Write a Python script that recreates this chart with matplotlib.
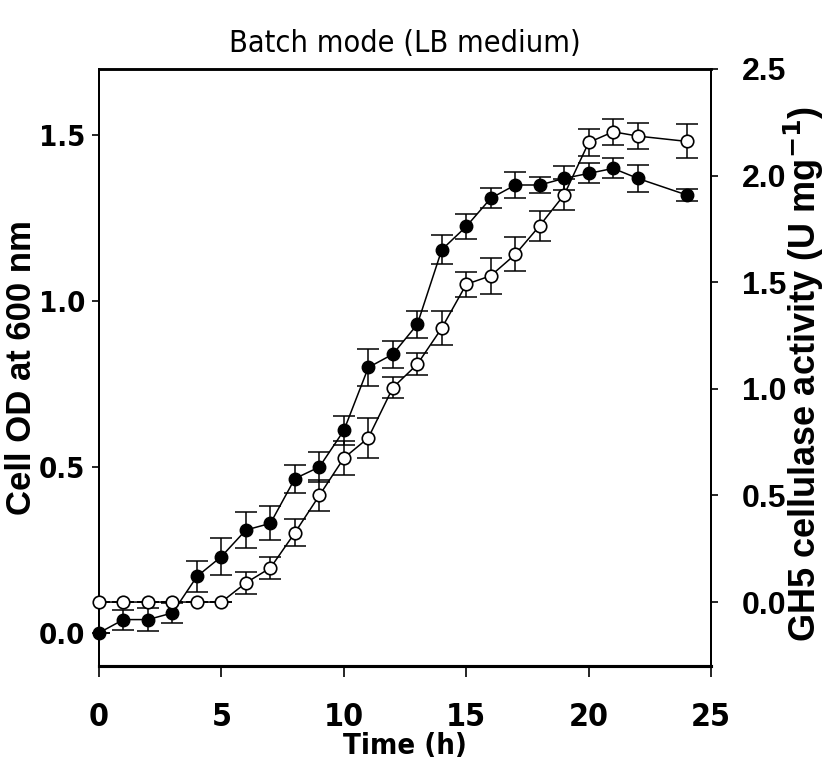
import matplotlib
matplotlib.use('Agg')
import matplotlib.pyplot as plt

# time points (h)
time_h = [0, 1, 2, 3, 4, 5, 6, 7, 8, 9, 10, 11, 12, 13, 14, 15, 16, 17, 18, 19, 20, 21, 22, 24]

# cell OD at 600 nm (filled circles, left axis)
od600 = [0.00, 0.04, 0.04, 0.06, 0.17, 0.23, 0.31, 0.33, 0.465, 0.50, 0.61, 0.80,
         0.84, 0.93, 1.155, 1.225, 1.31, 1.35, 1.35, 1.37, 1.385, 1.40, 1.37, 1.32]
od600_err = [0.0, 0.03, 0.035, 0.03, 0.047, 0.057, 0.054, 0.051, 0.042, 0.044, 0.044, 0.055,
             0.041, 0.040, 0.044, 0.039, 0.030, 0.040, 0.023, 0.036, 0.030, 0.030, 0.040, 0.019]

# GH5 cellulase activity (open circles, right axis)
activity = [0.0, 0.0, 0.0, 0.0, 0.0, 0.0, 0.09, 0.16, 0.325, 0.50, 0.675, 0.77,
            1.005, 1.115, 1.285, 1.49, 1.53, 1.63, 1.765, 1.91, 2.155, 2.205, 2.185, 2.16]
activity_err = [0.0, 0.0, 0.0, 0.0, 0.0, 0.0, 0.051, 0.051, 0.064, 0.071, 0.080, 0.095,
                0.05, 0.052, 0.079, 0.059, 0.085, 0.080, 0.070, 0.072, 0.064, 0.060, 0.059, 0.080]

narrow = dict(family='DejaVu Sans', stretch='condensed')
arial = ['Liberation Sans', 'DejaVu Sans']

fig = plt.figure(figsize=(8.25, 7.74), dpi=100)
ax1 = fig.add_axes([0.12, 0.1395, 0.742, 0.7715])
ax2 = ax1.twinx()

# error bars first, then lines and markers on top
ax1.errorbar(time_h, od600, yerr=od600_err, fmt='none', ecolor='black',
             elinewidth=1.1, capsize=8, capthick=1.1, zorder=2)
ax1.plot(time_h, od600, '-o', color='black', lw=1.1, ms=9,
         mfc='black', mec='black', zorder=3, clip_on=False)

ax2.errorbar(time_h, activity, yerr=activity_err, fmt='none', ecolor='black',
             elinewidth=1.1, capsize=8, capthick=1.1, zorder=2)
ax2.plot(time_h, activity, '-o', color='black', lw=1.1, ms=9,
         mfc='white', mec='black', mew=1.2, zorder=3, clip_on=False)

ax1.set_xlim(0, 25)
ax1.set_ylim(-0.1, 1.7)
ax2.set_ylim(-0.3, 2.5)

ax1.set_xticks([0, 5, 10, 15, 20, 25])
ax1.set_yticks([0.0, 0.5, 1.0, 1.5])
ax2.set_yticks([0.0, 0.5, 1.0, 1.5, 2.0, 2.5])
ax1.set_yticklabels(['0.0', '0.5', '1.0', '1.5'])
ax2.set_yticklabels(['0.0', '0.5', '1.0', '1.5', '2.0', '2.5'])

ax1.tick_params(axis='x', direction='out', length=8, width=1.2, pad=18)
ax1.tick_params(axis='y', direction='out', length=5, width=1.2, pad=5)
ax2.tick_params(axis='y', direction='out', length=5, width=1.2, pad=17)

for lab in ax1.get_xticklabels():
    lab.set_family(narrow['family'])
    lab.set_stretch(narrow['stretch'])
    lab.set_fontweight('bold')
    lab.set_fontsize(23)
for lab in ax1.get_yticklabels():
    lab.set_family(narrow['family'])
    lab.set_stretch(narrow['stretch'])
    lab.set_fontweight('bold')
    lab.set_fontsize(21)
for lab in ax2.get_yticklabels():
    lab.set_family(arial)
    lab.set_fontweight('bold')
    lab.set_fontsize(23)

for ax in (ax1, ax2):
    ax.spines['bottom'].set_linewidth(2.2)
    ax.spines['top'].set_linewidth(1.8)
    ax.spines['left'].set_linewidth(1.4)
    ax.spines['right'].set_linewidth(1.4)

ax1.set_title('Batch mode (LB medium)', fontsize=22, pad=12, **narrow)
ax1.set_xlabel('Time (h)', fontweight='bold', fontsize=21, labelpad=-1, **narrow)
ax1.set_ylabel('Cell OD at 600 nm', family=arial, fontweight='bold', fontsize=25)
ax2.set_ylabel('GH5 cellulase activity (U mg$^{\\mathbf{-1}}$)', family=arial,
               fontweight='bold', fontsize=26)
ax1.yaxis.set_label_coords(-0.1, 0.5)
ax2.yaxis.set_label_coords(1.116, 0.49)

fig.savefig('out.png', dpi=100)
